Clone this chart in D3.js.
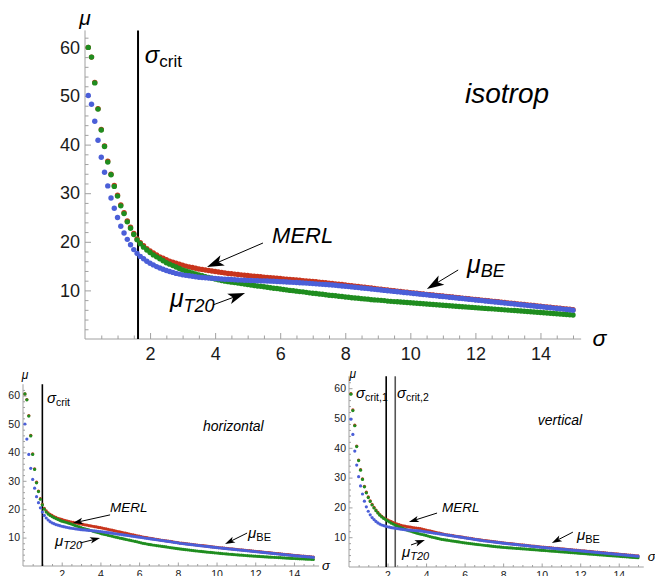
<!DOCTYPE html>
<html>
<head>
<meta charset="utf-8">
<script src="https://cdn.jsdelivr.net/npm/d3@7"></script>
<style>
body{margin:0;background:#fff}
text{font-family:"Liberation Sans",Arial,sans-serif}
</style>
</head>
<body>
<svg id="chart" width="655" height="576"></svg>
<script>
// sigma grid, 0.1 .. 15.0
var sigma = d3.range(1, 151).map(function(i){ return i / 10; });

var yTicks = [10, 20, 30, 40, 50, 60];
var xTicks = [2, 4, 6, 8, 10, 12, 14];

// isotrop
var isoMERL = [60.0,58.0,52.8,47.4,43.1,39.7,36.6,33.9,31.6,29.6,
27.6,26.0,24.3,23.0,21.7,20.6,19.8,19.2,18.6,18.1,
17.7,17.3,16.9,16.6,16.3,16.0,15.8,15.6,15.4,15.2,
15.0,14.85,14.7,14.55,14.4,14.3,14.2,14.1,14.0,13.9,
13.8,13.7,13.6,13.5,13.42,13.35,13.28,13.2,13.13,13.06,
12.99,12.92,12.86,12.8,12.74,12.68,12.62,12.56,12.5,12.44,
12.38,12.32,12.26,12.2,12.14,12.08,12.02,11.96,11.9,11.84,
11.77,11.7,11.63,11.56,11.49,11.42,11.35,11.28,11.2,11.12,
11.04,10.96,10.88,10.8,10.72,10.64,10.56,10.48,10.4,10.32,
10.24,10.16,10.08,10.0,9.92,9.84,9.77,9.7,9.62,9.55,
9.47,9.4,9.33,9.26,9.19,9.12,9.05,8.98,8.91,8.84,
8.77,8.7,8.63,8.56,8.49,8.42,8.35,8.28,8.21,8.14,
8.07,8.0,7.93,7.86,7.79,7.72,7.65,7.58,7.51,7.44,
7.37,7.3,7.23,7.16,7.09,7.02,6.95,6.88,6.81,6.74,
6.67,6.6,6.53,6.46,6.39,6.32,6.25,6.18,6.11,6.04];
var isoT20 = [60.0,58.0,52.7,47.3,43.0,39.6,36.4,33.8,31.4,29.4,
27.4,25.8,24.1,22.8,21.5,20.4,19.6,18.9,18.3,17.8,
17.3,16.9,16.5,16.1,15.7,15.4,15.1,14.8,14.5,14.2,
14.0,13.8,13.6,13.4,13.2,13.0,12.8,12.65,12.5,12.35,
12.2,12.05,11.9,11.8,11.7,11.6,11.5,11.4,11.3,11.2,
11.1,11.0,10.9,10.85,10.75,10.65,10.55,10.45,10.4,10.3,
10.2,10.1,10.0,9.95,9.85,9.75,9.7,9.6,9.5,9.4,
9.35,9.25,9.2,9.1,9.0,8.95,8.9,8.8,8.75,8.65,
8.6,8.5,8.45,8.4,8.3,8.25,8.2,8.1,8.05,8.0,
7.95,7.9,7.8,7.75,7.7,7.65,7.6,7.55,7.5,7.45,
7.4,7.35,7.3,7.25,7.2,7.15,7.1,7.05,7.0,6.95,
6.9,6.85,6.8,6.75,6.7,6.65,6.6,6.55,6.5,6.45,
6.4,6.35,6.3,6.25,6.2,6.15,6.1,6.05,6.0,5.95,
5.9,5.85,5.8,5.75,5.7,5.65,5.6,5.55,5.5,5.45,
5.4,5.35,5.3,5.25,5.2,5.15,5.1,5.05,5.0,4.95];
var isoBE = [50.1,48.3,44.8,40.9,37.4,34.3,31.5,29.0,26.9,25.0,
23.2,21.8,20.5,19.4,18.4,17.6,17.0,16.5,16.0,15.6,
15.25,14.9,14.6,14.35,14.1,13.9,13.7,13.5,13.35,13.2,
13.1,13.0,12.9,12.8,12.7,12.65,12.6,12.55,12.5,12.45,
12.4,12.35,12.3,12.28,12.25,12.2,12.15,12.12,12.1,12.07,
12.05,12.02,12.0,11.97,11.95,11.92,11.9,11.87,11.84,11.8,
11.77,11.73,11.7,11.66,11.62,11.58,11.54,11.5,11.45,11.4,
11.35,11.3,11.25,11.2,11.15,11.1,11.05,10.98,10.92,10.85,
10.78,10.72,10.65,10.58,10.5,10.44,10.37,10.3,10.22,10.15,
10.08,10.0,9.93,9.86,9.79,9.72,9.65,9.58,9.51,9.44,
9.37,9.3,9.23,9.16,9.09,9.02,8.95,8.88,8.81,8.74,
8.67,8.6,8.53,8.46,8.39,8.32,8.25,8.18,8.11,8.04,
7.97,7.9,7.83,7.76,7.69,7.62,7.55,7.48,7.41,7.34,
7.27,7.2,7.13,7.06,6.99,6.92,6.85,6.78,6.71,6.64,
6.57,6.5,6.43,6.36,6.29,6.22,6.15,6.08,6.01,5.94];

// horizontal
var horMERL = [60.6,58.6,53.0,46.0,39.5,34.2,29.5,26.4,23.7,21.7,
20.3,19.4,18.7,18.2,17.8,17.4,17.1,16.8,16.6,16.4,
16.2,16.0,15.8,15.65,15.5,15.35,15.2,15.05,14.9,14.8,
14.65,14.5,14.4,14.25,14.1,14.0,13.85,13.75,13.6,13.5,
13.35,13.2,13.05,12.9,12.75,12.6,12.45,12.3,12.15,12.0,
11.85,11.7,11.55,11.4,11.25,11.1,10.95,10.8,10.65,10.5,
10.35,10.22,10.1,9.98,9.86,9.74,9.62,9.5,9.38,9.26,
9.15,9.05,8.95,8.85,8.75,8.65,8.55,8.45,8.35,8.25,
8.1,8.02,7.94,7.86,7.78,7.7,7.62,7.54,7.46,7.38,
7.3,7.22,7.14,7.06,6.98,6.9,6.82,6.74,6.66,6.58,
6.5,6.43,6.36,6.29,6.22,6.15,6.08,6.01,5.94,5.87,
5.8,5.73,5.66,5.59,5.52,5.45,5.38,5.31,5.24,5.17,
5.1,5.03,4.96,4.89,4.82,4.75,4.68,4.61,4.54,4.47,
4.4,4.33,4.26,4.19,4.12,4.05,3.98,3.91,3.84,3.77,
3.7,3.64,3.58,3.52,3.46,3.4,3.34,3.28,3.22,3.16];
var horT20 = [60.6,58.5,52.8,45.8,39.3,34.0,29.3,26.2,23.5,21.5,
20.0,19.0,18.3,17.8,17.4,17.0,16.7,16.4,16.1,15.8,
15.6,15.4,15.2,15.0,14.75,14.5,14.25,14.0,13.75,13.5,
13.3,13.1,12.9,12.7,12.5,12.3,12.1,11.9,11.7,11.5,
11.3,11.15,11.0,10.8,10.65,10.5,10.3,10.15,10.0,9.85,
9.7,9.55,9.4,9.25,9.1,8.95,8.8,8.65,8.5,8.35,
8.15,8.0,7.9,7.75,7.6,7.5,7.4,7.3,7.2,7.1,
7.0,6.9,6.8,6.7,6.6,6.5,6.4,6.3,6.2,6.1,
6.0,5.92,5.84,5.76,5.68,5.6,5.52,5.44,5.36,5.28,
5.2,5.13,5.06,4.99,4.92,4.85,4.78,4.71,4.64,4.57,
4.5,4.44,4.38,4.32,4.26,4.2,4.14,4.08,4.02,3.96,
3.9,3.85,3.8,3.75,3.7,3.65,3.6,3.55,3.5,3.45,
3.4,3.36,3.32,3.28,3.24,3.2,3.16,3.12,3.08,3.04,
3.0,2.96,2.92,2.88,2.84,2.8,2.76,2.72,2.68,2.64,
2.6,2.57,2.54,2.51,2.48,2.45,2.42,2.39,2.36,2.33];
var horBE = [50.0,44.7,39.3,34.4,30.5,27.4,24.4,22.3,20.5,19.0,
17.8,16.9,16.2,15.6,15.2,14.9,14.6,14.4,14.2,14.0,
13.85,13.7,13.55,13.4,13.3,13.2,13.1,13.0,12.9,12.8,
12.75,12.7,12.6,12.55,12.5,12.4,12.35,12.3,12.2,12.15,
12.05,11.95,11.85,11.75,11.65,11.55,11.45,11.35,11.25,11.15,
11.05,10.95,10.85,10.75,10.65,10.55,10.45,10.35,10.25,10.15,
10.05,9.95,9.85,9.75,9.65,9.55,9.45,9.35,9.25,9.15,
9.05,8.95,8.85,8.75,8.65,8.55,8.45,8.35,8.25,8.15,
8.0,7.92,7.84,7.76,7.68,7.6,7.52,7.44,7.36,7.28,
7.2,7.12,7.04,6.96,6.88,6.8,6.72,6.64,6.56,6.48,
6.4,6.33,6.26,6.19,6.12,6.05,5.98,5.91,5.84,5.77,
5.7,5.63,5.56,5.49,5.42,5.35,5.28,5.21,5.14,5.07,
5.0,4.93,4.86,4.79,4.72,4.65,4.58,4.51,4.44,4.37,
4.3,4.23,4.16,4.09,4.02,3.95,3.88,3.81,3.74,3.67,
3.6,3.54,3.48,3.42,3.36,3.3,3.24,3.18,3.12,3.06];

// vertical
var verMERL = [58.2,52.7,47.6,40.6,35.9,32.7,29.6,27.1,25.1,23.5,
22.2,21.0,20.0,19.1,18.3,17.6,17.0,16.5,16.1,15.8,
15.5,15.2,14.9,14.65,14.4,14.2,14.0,13.85,13.7,13.55,
13.45,13.35,13.25,13.15,13.05,12.95,12.85,12.7,12.55,12.4,
12.25,12.1,11.95,11.8,11.65,11.5,11.35,11.2,11.05,10.9,
10.8,10.7,10.6,10.5,10.4,10.3,10.2,10.1,10.0,9.9,
9.8,9.7,9.6,9.5,9.4,9.3,9.2,9.1,9.0,8.9,
8.82,8.74,8.66,8.58,8.5,8.42,8.34,8.26,8.18,8.1,
8.03,7.96,7.89,7.82,7.75,7.68,7.61,7.54,7.47,7.4,
7.33,7.26,7.19,7.12,7.05,6.98,6.91,6.84,6.77,6.7,
6.65,6.6,6.54,6.48,6.42,6.36,6.3,6.24,6.18,6.12,
6.06,6.0,5.94,5.88,5.82,5.76,5.7,5.64,5.58,5.52,
5.46,5.4,5.34,5.28,5.22,5.16,5.1,5.04,4.98,4.92,
4.86,4.8,4.74,4.68,4.62,4.56,4.5,4.44,4.38,4.32,
4.26,4.2,4.14,4.08,4.02,3.96,3.9,3.84,3.78,3.72];
var verT20 = [58.0,52.5,47.4,40.4,35.7,32.5,29.4,26.9,24.9,23.3,
22.0,20.8,19.8,18.9,18.1,17.4,16.8,16.3,15.9,15.5,
15.1,14.7,14.4,14.1,13.8,13.5,13.2,12.95,12.7,12.45,
12.2,12.0,11.8,11.6,11.4,11.2,11.05,10.9,10.75,10.6,
10.4,10.2,10.05,9.9,9.75,9.6,9.45,9.3,9.2,9.1,
9.0,8.9,8.8,8.7,8.6,8.5,8.4,8.3,8.2,8.1,
8.02,7.94,7.86,7.78,7.7,7.62,7.54,7.46,7.38,7.3,
7.22,7.14,7.06,6.98,6.9,6.84,6.78,6.72,6.66,6.6,
6.55,6.5,6.45,6.4,6.35,6.3,6.25,6.2,6.15,6.1,
6.05,6.0,5.95,5.9,5.85,5.8,5.75,5.7,5.65,5.6,
5.55,5.5,5.45,5.4,5.35,5.3,5.25,5.2,5.15,5.1,
5.05,5.0,4.95,4.9,4.85,4.8,4.75,4.7,4.65,4.6,
4.55,4.5,4.45,4.4,4.35,4.3,4.25,4.2,4.15,4.1,
4.05,4.0,3.95,3.9,3.85,3.8,3.75,3.7,3.65,3.6,
3.55,3.5,3.45,3.4,3.35,3.3,3.25,3.2,3.15,3.1];
var verBE = [49.6,44.5,38.9,34.2,30.3,27.2,24.5,22.1,20.2,18.7,
17.5,16.6,15.9,15.3,14.8,14.4,14.1,13.9,13.7,13.5,
13.35,13.2,13.1,13.0,12.9,12.8,12.7,12.6,12.5,12.45,
12.4,12.35,12.3,12.25,12.2,12.15,12.1,12.0,11.9,11.8,
11.7,11.6,11.5,11.4,11.3,11.2,11.1,11.0,10.9,10.8,
10.7,10.6,10.5,10.4,10.3,10.2,10.1,10.0,9.9,9.8,
9.7,9.6,9.5,9.4,9.3,9.2,9.1,9.0,8.9,8.8,
8.72,8.64,8.56,8.48,8.4,8.32,8.24,8.16,8.08,8.0,
7.93,7.86,7.79,7.72,7.65,7.58,7.51,7.44,7.37,7.3,
7.23,7.16,7.09,7.02,6.95,6.88,6.81,6.74,6.67,6.6,
6.55,6.5,6.44,6.38,6.32,6.26,6.2,6.14,6.08,6.02,
5.96,5.9,5.84,5.78,5.72,5.66,5.6,5.54,5.48,5.42,
5.36,5.3,5.24,5.18,5.12,5.06,5.0,4.94,4.88,4.82,
4.76,4.7,4.64,4.58,4.52,4.46,4.4,4.34,4.28,4.22,
4.16,4.1,4.04,3.98,3.92,3.86,3.8,3.74,3.68,3.62];

var isoCrit = [1.63];
var horCrit = [1.0];
var verCrit = [1.93, 2.4];

var colMERL = "#c8341c", colT20 = "#1f8d1f", colBE = "#4b5fd8";

var svg = d3.select("#chart");

var arrow = function(g, x1, y1, x2, y2, len, wid){
    var dx = x2 - x1, dy = y2 - y1;
    var d = Math.sqrt(dx*dx + dy*dy);
    var ux = dx/d, uy = dy/d;
    var bx = x2 - ux*len, by = y2 - uy*len;
    var nx = x2 - ux*len*0.75, ny = y2 - uy*len*0.75;
    g.append("line")
        .attr("x1", x1).attr("y1", y1).attr("x2", nx).attr("y2", ny)
        .attr("stroke", "#000").attr("stroke-width", 1);
    var pts = [[x2, y2], [bx - uy*wid/2, by + ux*wid/2], [nx, ny], [bx + uy*wid/2, by - ux*wid/2]];
    g.append("polygon")
        .attr("points", pts.map(function(p){ return p.join(","); }).join(" "))
        .attr("fill", "#000");
}

var subText = function(g, x, y, main, sub, size, subSize, dy, italicSub){
    var t = g.append("text").attr("x", x).attr("y", y).attr("fill", "#000");
    t.append("tspan").attr("font-size", size).attr("font-style", "italic").text(main);
    t.append("tspan").attr("font-size", subSize).attr("dy", dy)
        .attr("font-style", italicSub ? "italic" : "normal").text(sub);
}

var drawPanel = function(p){
    var g = svg.append("g");
    var xScale = d3.scaleLinear().domain([0, 15]).range([p.x0, p.x15]);
    var yScale = d3.scaleLinear().domain([0, 60]).range([p.y0, p.y60]);

    // axis lines
    g.append("line").attr("x1", xScale(0)).attr("x2", xScale(p.xEnd))
        .attr("y1", yScale(0)).attr("y2", yScale(0)).attr("stroke", "#a0a0a0");
    g.append("line").attr("x1", xScale(0)).attr("x2", xScale(0))
        .attr("y1", yScale(0)).attr("y2", yScale(p.yEnd)).attr("stroke", "#a0a0a0");

    var yMinor = d3.range(2, 63, 2).filter(function(v){ return v % 10 != 0; });
    var xMinor = d3.range(0.5, 15.01, 0.5).filter(function(v){ return v % 2 != 0; });

    var yAx = g.append("g").attr("transform", "translate(" + xScale(0) + ",0)")
        .call(d3.axisLeft(yScale).tickValues(yTicks).tickSizeInner(-p.major).tickSizeOuter(0).tickPadding(p.pad));
    var yAxMin = g.append("g").attr("transform", "translate(" + xScale(0) + ",0)")
        .call(d3.axisLeft(yScale).tickValues(yMinor)
            .tickFormat("").tickSizeInner(-p.minor).tickSizeOuter(0));
    var xAx = g.append("g").attr("transform", "translate(0," + yScale(0) + ")")
        .call(d3.axisBottom(xScale).tickValues(xTicks).tickSizeInner(-p.major).tickSizeOuter(0).tickPadding(p.xpad));
    var xAxMin = g.append("g").attr("transform", "translate(0," + yScale(0) + ")")
        .call(d3.axisBottom(xScale).tickValues(xMinor).tickFormat("").tickSizeInner(-p.minor).tickSizeOuter(0));

    [yAx, yAxMin, xAx, xAxMin].forEach(function(a){
        a.select(".domain").remove();
        a.selectAll("line").attr("stroke", "#a0a0a0");
        a.attr("font-family", null).attr("font-size", null);
        a.selectAll("text").attr("font-size", p.tick).attr("fill", "#1a1a1a");
    });
    xAx.selectAll("text").attr("dy", "0.71em");

    // critical sigma lines
    g.selectAll(".crit").data(p.crit).enter().append("line")
        .attr("x1", function(d){ return xScale(d); })
        .attr("x2", function(d){ return xScale(d); })
        .attr("y1", yScale(0)).attr("y2", yScale(p.critTop))
        .attr("stroke", function(d, i){ return i == 1 ? "#555" : "#000"; })
        .attr("stroke-width", p.critW);

    // points: MERL, T20, BE
    var series = [[p.merl, colMERL], [p.t20, colT20], [p.be, colBE]];
    series.forEach(function(s){
        g.append("g").selectAll("circle")
            .data(s[0]).enter().append("circle")
            .attr("cx", function(d, i){ return xScale(sigma[i]); })
            .attr("cy", function(d){ return yScale(d); })
            .attr("r", p.r)
            .attr("fill", s[1]);
    });

    p.labels(g, xScale, yScale);
}

drawPanel({
    x0: 85, x15: 573, y0: 339, y60: 47.4, xEnd: 15.25, yEnd: 63.5, critTop: 63.5, critW: 2,
    major: 6, minor: 3.5, pad: 5, xpad: 8, tick: 18, r: 2.7,
    merl: isoMERL, t20: isoT20, be: isoBE, crit: isoCrit,
    labels: function(g, x, y){
        g.append("text").attr("x", x(0)).attr("y", y(64.6)).attr("text-anchor", "middle")
            .attr("font-size", 21).attr("font-style", "italic").text("μ");
        g.append("text").attr("x", x(15.6)).attr("y", y(-1.5))
            .attr("font-size", 23).attr("font-style", "italic").text("σ");
        subText(g, x(1.84), y(56.8), "σ", "crit", 24, 17, 4, false);
        g.append("text").attr("x", x(11.68)).attr("y", y(48.6))
            .attr("font-size", 28).attr("font-style", "italic").text("isotrop");
        g.append("text").attr("x", x(5.75)).attr("y", y(19.75))
            .attr("font-size", 22).attr("font-style", "italic").text("MERL");
        arrow(g, x(5.47), y(19.75), x(3.75), y(14.8), 17, 11);
        subText(g, x(2.61), y(6.6), "μ", "T20", 25, 18, 5, true);
        arrow(g, x(3.93), y(7.0), x(4.92), y(9.47), 17, 11);
        subText(g, x(11.74), y(13.6), "μ", "BE", 25, 18, 4, true);
        arrow(g, x(11.47), y(14.2), x(10.51), y(10.3), 17, 11);
    }
});

drawPanel({
    x0: 23, x15: 313.3, y0: 566, y60: 395.6, xEnd: 15.3, yEnd: 64, critTop: 64, critW: 1.6,
    major: 3.5, minor: 2, pad: 3, xpad: 5, tick: 10.5, r: 1.6,
    merl: horMERL, t20: horT20, be: horBE, crit: horCrit,
    labels: function(g, x, y){
        g.append("text").attr("x", x(0.1)).attr("y", y(65.8)).attr("text-anchor", "middle")
            .attr("font-size", 12).attr("font-style", "italic").text("μ");
        g.append("text").attr("x", x(15.45)).attr("y", y(-1.4))
            .attr("font-size", 13).attr("font-style", "italic").text("σ");
        subText(g, x(1.24), y(57.4), "σ", "crit", 15, 10.5, 3, false);
        g.append("text").attr("x", x(9.3)).attr("y", y(47.6))
            .attr("font-size", 14).attr("font-style", "italic").text("horizontal");
        g.append("text").attr("x", x(4.5)).attr("y", y(19.0))
            .attr("font-size", 13.5).attr("font-style", "italic").text("MERL");
        arrow(g, x(4.5), y(18.0), x(2.58), y(15.1), 10, 6.5);
        subText(g, x(1.65), y(6.9), "μ", "T20", 15, 11, 3, true);
        arrow(g, x(2.95), y(8.1), x(3.98), y(9.86), 10, 6.5);
        subText(g, x(11.63), y(9.7), "μ", "BE", 15, 11, 3, false);
        arrow(g, x(11.58), y(11.6), x(10.44), y(7.75), 10, 6.5);
    }
});

drawPanel({
    x0: 349, x15: 638, y0: 567, y60: 388.2, xEnd: 15.3, yEnd: 64, critTop: 64, critW: 1.6,
    major: 3.5, minor: 2, pad: 3, xpad: 5, tick: 10.5, r: 1.6,
    merl: verMERL, t20: verT20, be: verBE, crit: verCrit,
    labels: function(g, x, y){
        g.append("text").attr("x", x(0.2)).attr("y", y(63.4)).attr("text-anchor", "middle")
            .attr("font-size", 12).attr("font-style", "italic").text("μ");
        g.append("text").attr("x", x(15.5)).attr("y", y(2.0))
            .attr("font-size", 13).attr("font-style", "italic").text("σ");
        subText(g, x(0.36), y(56.7), "σ", "crit,1", 15, 10.5, 3, false);
        subText(g, x(2.49), y(56.7), "σ", "crit,2", 15, 10.5, 3, false);
        g.append("text").attr("x", x(9.8)).attr("y", y(47.6))
            .attr("font-size", 14).attr("font-style", "italic").text("vertical");
        g.append("text").attr("x", x(4.83)).attr("y", y(18.5))
            .attr("font-size", 13.5).attr("font-style", "italic").text("MERL");
        arrow(g, x(4.57), y(18.1), x(3.11), y(15.1), 10, 6.5);
        subText(g, x(2.75), y(3.5), "μ", "T20", 15, 11, 3, true);
        arrow(g, x(3.22), y(7.4), x(3.94), y(9.06), 10, 6.5);
        subText(g, x(11.83), y(9.1), "μ", "BE", 15, 11, 3, false);
        arrow(g, x(11.62), y(11.7), x(10.53), y(8.05), 10, 6.5);
    }
});
</script>
</body>
</html>
